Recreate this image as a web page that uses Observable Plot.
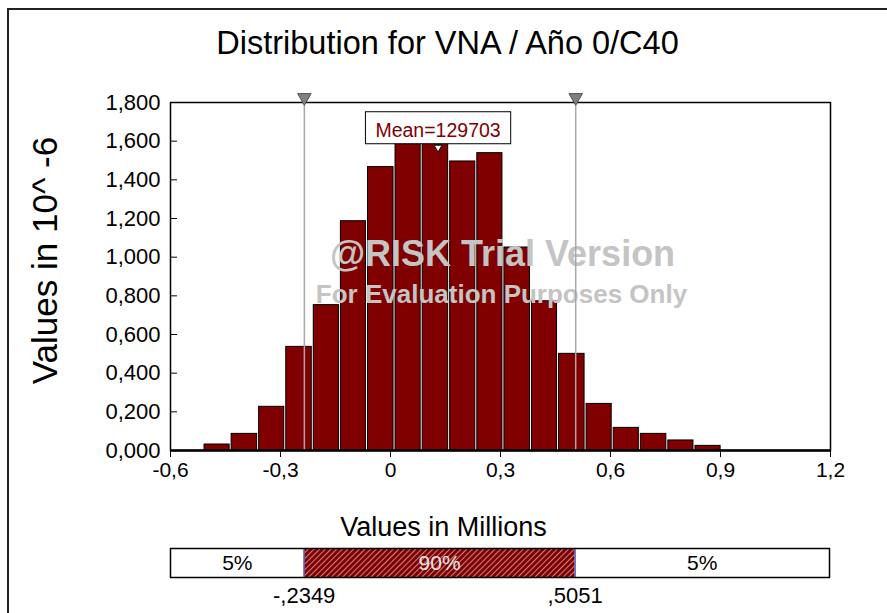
<!DOCTYPE html>
<html>
<head>
<meta charset="utf-8">
<script src="https://cdn.jsdelivr.net/npm/d3@7"></script>
<script src="https://cdn.jsdelivr.net/npm/@observablehq/plot@0.6"></script>
<style>
  body { margin: 0; background: #fff; overflow: hidden; }
  #wrap { position: relative; width: 887px; height: 613px; overflow: hidden; background: #fff;
          font-family: "Liberation Sans", Arial, sans-serif; color: #000; }
  #border { position: absolute; left: 7px; top: 8px; width: 920px; height: 700px;
            border-left: 2px solid #222; border-top: 2px solid #222; }
  #title { position: absolute; left: 4px; top: 27px; width: 887px; text-align: center;
           font-size: 32.5px; line-height: 1; white-space: nowrap; }
  #xlabel { position: absolute; left: 0; top: 514px; width: 887px; text-align: center;
            font-size: 27px; line-height: 1; white-space: nowrap; }
  .plotbox { position: absolute; left: 0; }
</style>
</head>
<body>
<div id="wrap">
  <div id="border"></div>
  <div id="main" class="plotbox" style="top:0"></div>
  <div id="band" class="plotbox" style="top:540px"></div>
  <div id="title"></div>
  <div id="xlabel"></div>
</div>
<script>
// ---- data ----
const titleText = "Distribution for VNA / Año 0/C40";
const xAxisTitle = "Values in Millions";
const yAxisTitle = "Values in 10^ -6";
const watermark1 = "@RISK Trial Version";
const watermark2 = "For Evaluation Purposes Only";

const binEdges = [-0.510, -0.436, -0.361, -0.287, -0.212, -0.138, -0.064, 0.011, 0.085, 0.160,
                  0.234, 0.308, 0.383, 0.457, 0.532, 0.606, 0.680, 0.755, 0.829, 0.903];
const density = [0.031, 0.086, 0.226, 0.536, 0.752, 1.186, 1.466, 1.585, 1.590, 1.495,
                 1.538, 1.050, 0.772, 0.500, 0.241, 0.117, 0.086, 0.052, 0.024];

const meanValue = 0.129703;
const meanText = "Mean=129703";
const pctBounds = [-0.2349, 0.5051];
const pctBoundLabels = ["-,2349", ",5051"];
const pctSegLabels = ["5%", "90%", "5%"];

const xDomain = [-0.6, 1.2];
const yDomain = [0, 1.8];
const xTicks = [-0.6, -0.3, 0, 0.3, 0.6, 0.9, 1.2];
const xTickLabels = ["-0,6", "-0,3", "0", "0,3", "0,6", "0,9", "1,2"];
const yTicks = [0, 0.2, 0.4, 0.6, 0.8, 1.0, 1.2, 1.4, 1.6, 1.8];
const yTickLabels = ["0,000", "0,200", "0,400", "0,600", "0,800", "1,000", "1,200", "1,400", "1,600", "1,800"];

// ---- derived tables ----
const bins = density.map((v, i) => ({x1: binEdges[i], x2: binEdges[i + 1], y: v}));
const segEdges = [xDomain[0], pctBounds[0], pctBounds[1], xDomain[1]];
const segments = pctSegLabels.map((t, i) => ({x1: segEdges[i], x2: segEdges[i + 1], label: t, mid: i === 1}));

const FONT = "Liberation Sans, Arial, sans-serif";
document.getElementById("title").textContent = titleText;
document.getElementById("xlabel").textContent = xAxisTitle;

const main = Plot.plot({
  width: 887, height: 545,
  marginLeft: 170, marginRight: 57, marginTop: 102, marginBottom: 95,
  style: {fontFamily: FONT, fontSize: "21px", color: "#000", background: "transparent", overflow: "visible"},
  x: {domain: xDomain},
  y: {domain: yDomain},
  marks: [
    Plot.rectY(bins, {x1: "x1", x2: "x2", y: "y", fill: "#800000", stroke: "#000", strokeWidth: 1,
                      insetLeft: 1, insetRight: 1}),
    Plot.text([watermark1], {frameAnchor: "middle", dx: 2, dy: -22, fontSize: 36, fontWeight: "bold",
                             fill: "#c4c4c4"}),
    Plot.text([watermark2], {frameAnchor: "middle", dx: 1, dy: 18, fontSize: 26, fontWeight: "bold",
                             fill: "#c4c4c4"}),
    Plot.ruleX(pctBounds, {stroke: "#a8a8a8", strokeWidth: 1.5}),
    Plot.frame({stroke: "#000", strokeWidth: 1.5}),
    Plot.ruleY([0], {stroke: "#000", strokeWidth: 2.5}),
    Plot.axisX({ticks: xTicks, tickFormat: d => xTickLabels[xTicks.indexOf(d)], tickSize: 7, tickPadding: 5,
                label: null, fontSize: 21}),
    Plot.axisY({ticks: yTicks, tickFormat: d => yTickLabels[yTicks.indexOf(d)], tickSize: -7, tickPadding: 17,
                label: null, fontSize: 22}),
    Plot.text([yAxisTitle], {frameAnchor: "left", textAnchor: "middle", rotate: -90, dx: -125, dy: -16,
                             fontSize: 35}),
    Plot.dot(pctBounds, {x: d => d, frameAnchor: "top", dy: -5, symbol: "triangle", rotate: 180, r: 5,
                         fill: "#808080", stroke: "#505050", strokeWidth: 1}),
    Plot.text([meanValue], {x: d => d, frameAnchor: "top", lineAnchor: "middle", dy: 28, text: () => meanText,
                            fill: "#800000", fontSize: 19.5}),
    Plot.dot([meanValue], {x: d => d, frameAnchor: "top", dy: 45, symbol: "triangle", rotate: 180, r: 3,
                           fill: "#fff", stroke: "#000", strokeWidth: 1})
  ]
});
document.getElementById("main").appendChild(main);

// white box behind the mean label, sized from the rendered text
{
  const svgRect = main.getBoundingClientRect();
  const t = Array.from(main.querySelectorAll("text")).find(el => el.textContent === meanText);
  if (t) {
    const g = t.parentNode;
    const b = t.getBoundingClientRect();
    const padX = 10, boxH = 32;
    const cy = b.top - svgRect.top + b.height / 2 - 2;
    const r = document.createElementNS("http://www.w3.org/2000/svg", "rect");
    r.setAttribute("x", b.left - svgRect.left - padX);
    r.setAttribute("y", cy - boxH / 2);
    r.setAttribute("width", b.width + 2 * padX);
    r.setAttribute("height", boxH);
    r.setAttribute("fill", "#fff");
    r.setAttribute("stroke", "#000");
    r.setAttribute("stroke-width", "1");
    g.parentNode.insertBefore(r, g);
  }
}

const band = Plot.plot({
  width: 887, height: 73,
  marginLeft: 170, marginRight: 58, marginTop: 8, marginBottom: 36,
  style: {fontFamily: FONT, fontSize: "21px", color: "#000", background: "transparent", overflow: "visible"},
  x: {domain: xDomain, axis: null},
  marks: [
    Plot.rect(segments.filter(s => s.mid), {x1: "x1", x2: "x2", fill: "url(#hatch)"}),
    Plot.ruleX(pctBounds, {stroke: "#5a5ab4", strokeWidth: 1.5}),
    Plot.frame({stroke: "#000", strokeWidth: 1.5}),
    Plot.text(segments, {x: d => (d.x1 + d.x2) / 2, frameAnchor: "middle", text: "label", fontSize: 21,
                         fill: d => d.mid ? "#e8e8e8" : "#000"}),
    Plot.text(pctBounds, {x: d => d, frameAnchor: "bottom", dy: 25, text: (d, i) => pctBoundLabels[i],
                          fontSize: 22})
  ]
});
{
  const defs = d3.select(band).insert("defs", ":first-child");
  const pat = defs.append("pattern").attr("id", "hatch").attr("patternUnits", "userSpaceOnUse")
    .attr("width", 4).attr("height", 4).attr("patternTransform", "rotate(45)");
  pat.append("rect").attr("width", 4).attr("height", 4).attr("fill", "#800000");
  pat.append("line").attr("x1", 0.5).attr("y1", 0).attr("x2", 0.5).attr("y2", 4)
    .attr("stroke", "#d8a8a8").attr("stroke-width", 0.8);
}
document.getElementById("band").appendChild(band);
</script>
</body>
</html>
